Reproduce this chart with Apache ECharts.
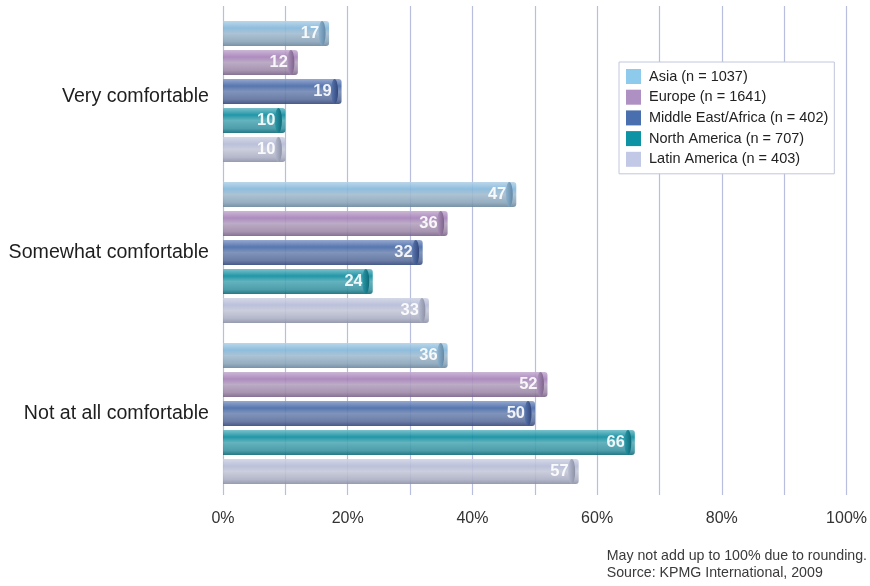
<!DOCTYPE html>
<html>
<head>
<meta charset="utf-8">
<script src="https://cdn.jsdelivr.net/npm/echarts@6/dist/echarts.min.js"></script>
<style>
  html, body { margin: 0; padding: 0; background: #fff; }
  #chart { width: 870px; height: 586px; }
</style>
</head>
<body>
<div id="chart"></div>
<script>
// Survey answers per region (percent of respondents)
const categories = ['Very comfortable', 'Somewhat comfortable', 'Not at all comfortable'];
const regions = ['Asia (n = 1037)', 'Europe (n = 1641)', 'Middle East/Africa (n = 402)', 'North America (n = 707)', 'Latin America (n = 403)'];
const asia = [17, 47, 36];
const europe = [12, 36, 52];
const middleEastAfrica = [19, 32, 50];
const northAmerica = [10, 24, 66];
const latinAmerica = [10, 33, 57];
const xTicks = [0, 20, 40, 60, 80, 100];
const footnote = ['May not add up to 100% due to rounding.', 'Source: KPMG International, 2009'];

const seriesValues = [asia, europe, middleEastAfrica, northAmerica, latinAmerica];

// Flat swatch colours for the legend, shaded stops for the tube-like bars
const swatch = ['#8ecaeb', '#ae90c2', '#4a6fae', '#0e93a4', '#c1c9e6'];
const shades = [
  ['#b3d2e8', '#82b6da', '#a2bccf', '#8ba5ba', '#6a869d'],
  ['#c6aed0', '#a47fb8', '#b5a2bf', '#9c88a8', '#7a6287'],
  ['#8a9ec8', '#4468a8', '#7288b3', '#5b6f9c', '#34487a'],
  ['#6cbbc6', '#0a8b9e', '#52abb7', '#3a93a2', '#0f6a79'],
  ['#d0d4e4', '#b4bad7', '#c5c8d8', '#abafc4', '#8c90a6']
];
const capShades = [
  ['#8fb3cf', '#5f86a4'],
  ['#ad93ba', '#7a6088'],
  ['#5a77b0', '#2c4378'],
  ['#2a98a8', '#0a6774'],
  ['#b8bcd0', '#8a8ea4']
];

function tubeFill(s) {
  return new echarts.graphic.LinearGradient(0, 0, 0, 1, [
    { offset: 0, color: s[0] },
    { offset: 0.28, color: s[1] },
    { offset: 0.5, color: s[2] },
    { offset: 0.82, color: s[3] },
    { offset: 1, color: s[4] }
  ]);
}

function capFill(c) {
  return new echarts.graphic.LinearGradient(0, 0, 1, 0, [
    { offset: 0, color: c[0] },
    { offset: 1, color: c[1] }
  ]);
}

const fontFamily = '"Liberation Sans", Arial, sans-serif';
const BAR_W = 25;
const BAR_GAP = '16%';

const barSeries = seriesValues.map((vals, i) => ({
  name: regions[i],
  type: 'bar',
  xAxisIndex: 0,
  yAxisIndex: 0,
  data: vals,
  barWidth: BAR_W,
  barGap: BAR_GAP,
  z: 2,
  itemStyle: {
    color: tubeFill(shades[i]),
    opacity: 0.9,
    borderRadius: [0, 3, 3, 0]
  },
  label: {
    show: true,
    position: 'insideRight',
    distance: 10,
    color: '#ffffff',
    fontWeight: 'bold',
    fontSize: 16.5,
    fontFamily: fontFamily
  }
}));

// Elliptic end caps giving each bar its cylinder look
const capSeries = seriesValues.map((vals, i) => ({
  name: regions[i],
  type: 'pictorialBar',
  xAxisIndex: 0,
  yAxisIndex: 0,
  data: vals,
  barWidth: BAR_W,
  barGap: BAR_GAP,
  z: 3,
  symbol: 'circle',
  symbolSize: [7, BAR_W],
  symbolPosition: 'end',
  symbolOffset: [-3.5, 0],
  itemStyle: {
    color: capFill(capShades[i]),
    opacity: 0.95
  },
  label: { show: false },
  silent: true
}));

const chart = echarts.init(document.getElementById('chart'), null, { renderer: 'canvas' });

chart.setOption({
  animation: false,
  backgroundColor: '#ffffff',
  textStyle: { fontFamily: fontFamily },
  grid: [
    // grid 0: bars
    { left: 223, right: 23, top: 11, height: 483 },
    // grid 1: vertical gridlines and percentage ticks
    { left: 223, right: 23, top: 6, height: 489 }
  ],
  legend: {
    orient: 'vertical',
    left: 619,
    top: 62,
    padding: [7, 6, 7, 7],
    backgroundColor: '#ffffff',
    borderColor: '#c2c6dd',
    borderWidth: 1,
    itemWidth: 15,
    itemHeight: 15,
    itemGap: 5.7,
    icon: 'rect',
    textStyle: { fontSize: 14.5, lineHeight: 15, color: '#222', fontFamily: fontFamily, padding: [0, 0, 0, 3] },
    data: regions.map((r, i) => ({ name: r, itemStyle: { color: swatch[i], borderWidth: 0, opacity: 1 } }))
  },
  xAxis: [
    {
      gridIndex: 0, type: 'value', min: 0, max: 100, interval: 10,
      show: false
    },
    {
      gridIndex: 1, type: 'value', min: 0, max: 100, interval: 10,
      axisLine: { show: false },
      axisTick: { show: false },
      splitLine: { show: true, lineStyle: { color: '#b9bedf', width: 1.2 } },
      axisLabel: {
        margin: 16,
        fontSize: 16,
        color: '#333',
        fontFamily: fontFamily,
        formatter: v => (xTicks.indexOf(v) >= 0 ? v + '%' : '')
      }
    }
  ],
  yAxis: [
    {
      gridIndex: 0, type: 'category', data: categories, inverse: true,
      axisLine: { show: false },
      axisTick: { show: false },
      splitLine: { show: false },
      axisLabel: {
        margin: 14,
        fontSize: 19.6,
        color: '#1e1e1e',
        fontFamily: fontFamily,
        formatter: (v, idx) => (idx === 0 ? '{low|' + v + '}' : v),
        rich: {
          low: { fontSize: 19.6, color: '#1e1e1e', fontFamily: fontFamily, padding: [11, 0, 0, 0] }
        }
      }
    },
    {
      gridIndex: 1, type: 'value', min: 0, max: 1, show: false
    }
  ],
  series: barSeries.concat(capSeries),
  graphic: [
    {
      type: 'text',
      right: 3,
      top: 548,
      style: {
        text: footnote.join('\n'),
        align: 'right',
        fontSize: 14.2,
        lineHeight: 17,
        fill: '#3a3a3a',
        fontFamily: fontFamily
      }
    }
  ]
});
</script>
</body>
</html>
